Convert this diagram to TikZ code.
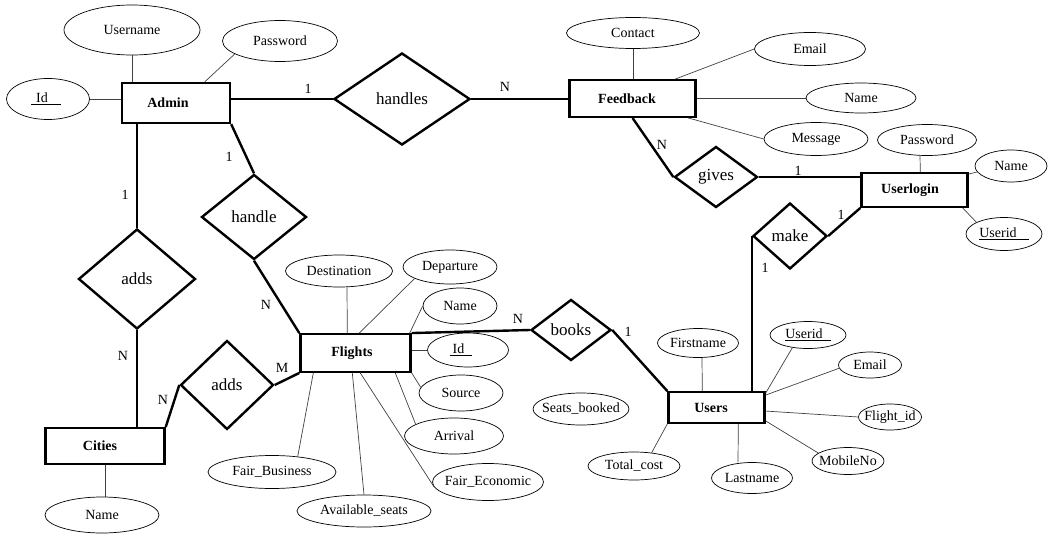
\documentclass[tikz,border=0pt]{standalone}
\usepackage{fontspec}
\setmainfont{Liberation Serif}
\usetikzlibrary{shapes.geometric,calc}
\begin{document}
\begin{tikzpicture}[x=1pt,y=-1pt,
  entity/.style={draw, rectangle, line width=2.4pt, inner sep=0pt, font=\fontsize{14}{16}\selectfont\bfseries},
  relation/.style={draw, diamond, line width=2.4pt, inner sep=0pt, font=\fontsize{17}{19}\selectfont},
  attr/.style={draw, ellipse, line width=0.7pt, inner xsep=-30pt, inner ysep=-4pt, font=\fontsize{14}{16}\selectfont},
  card/.style={inner sep=0pt, font=\fontsize{14}{16}\selectfont},
  link/.style={line width=2.4pt},
  attrline/.style={line width=0.7pt, black!75}]
\useasboundingbox (0,0) rectangle (1051,559);

% entities
\node[entity, minimum width=108pt, minimum height=40pt] (admin) at (176,103) {Admin\kern16pt};
\node[entity, minimum width=126pt, minimum height=36.5pt] (feedback) at (632.5,98.5) {Feedback\kern11pt};
\node[entity, minimum width=106pt, minimum height=33.5pt] (userlogin) at (914.5,190) {Userlogin\kern9pt};
\node[entity, minimum width=110pt, minimum height=37.5pt] (flights) at (355.5,353) {Flights\kern7pt};
\node[entity, minimum width=96pt, minimum height=30.5pt] (users) at (716.5,407.5) {Users\kern11pt};
\node[entity, minimum width=119pt, minimum height=35.5pt] (cities) at (105,446) {Cities\kern10pt};

% relationships
\node[relation, minimum width=136pt, minimum height=92pt] (handles) at (402,99) {handles};
\node[relation, minimum width=83pt, minimum height=61pt] (gives) at (716,177) {gives};
\node[relation, minimum width=74pt, minimum height=66pt] (make) at (790,236) {make};
\node[relation, minimum width=117pt, minimum height=100pt] (adds1) at (137,279) {adds};
\node[relation, minimum width=105pt, minimum height=85pt] (handle) at (254,217) {handle};
\node[relation, minimum width=93pt, minimum height=89pt] (adds2) at (227,385) {adds};
\node[relation, minimum width=80pt, minimum height=61pt] (books) at (571,330) {books};

% attributes
\node[attr, minimum width=136pt, minimum height=50pt] (username) at (132,30) {Username};
\node[attr, minimum width=115pt, minimum height=41pt] (password) at (280,41) {Password};
\node[attr, minimum width=83pt, minimum height=41pt] (aid) at (48,99) {\underline{\hspace{5pt}Id\hspace{13pt}}\kern4pt};
\node[attr, minimum width=133pt, minimum height=31pt] (contact) at (633,33) {Contact};
\node[attr, minimum width=111pt, minimum height=33pt] (femail) at (810,49) {Email};
\node[attr, minimum width=110pt, minimum height=30pt] (fname) at (861,98) {Name};
\node[attr, minimum width=104pt, minimum height=33pt] (message) at (816,139) {Message};
\node[attr, minimum width=99pt, minimum height=31pt] (upass) at (927,140) {Password};
\node[attr, minimum width=72pt, minimum height=32pt] (ulname) at (1011,166) {Name};
\node[attr, minimum width=76pt, minimum height=33pt] (ulid) at (1004,234) {\underline{Userid\hspace{12pt}}};
\node[attr, minimum width=107pt, minimum height=32pt] (dest) at (339,271) {Destination};
\node[attr, minimum width=94pt, minimum height=34pt] (depart) at (450,267) {Departure};
\node[attr, minimum width=74pt, minimum height=36pt] (fnm) at (460,306) {Name};
\node[attr, minimum width=81pt, minimum height=34pt] (fid) at (468,350) {\underline{\hspace{3pt}Id\hspace{8pt}}\kern14pt};
\node[attr, minimum width=84pt, minimum height=36pt] (source) at (461,393) {Source};
\node[attr, minimum width=99pt, minimum height=36pt] (arrival) at (454,436) {Arrival};
\node[attr, minimum width=111pt, minimum height=37pt] (feco) at (488,482) {Fair\_Economic};
\node[attr, minimum width=134pt, minimum height=32pt] (avail) at (364,511) {Available\_seats};
\node[attr, minimum width=128pt, minimum height=33pt] (fbus) at (272,472) {Fair\_Business};
\node[attr, minimum width=114pt, minimum height=36pt] (cname) at (102,515) {Name};
\node[attr, minimum width=81pt, minimum height=29pt] (firstname) at (698,343) {Firstname};
\node[attr, minimum width=76pt, minimum height=27pt] (uid) at (808,335) {\underline{Userid\hspace{8pt}}};
\node[attr, minimum width=63pt, minimum height=26pt] (uemail) at (870,365) {Email};
\node[attr, minimum width=63pt, minimum height=26pt] (flid) at (890,417) {Flight\_id};
\node[attr, minimum width=72pt, minimum height=27pt] (mobile) at (848,461) {MobileNo};
\node[attr, minimum width=81pt, minimum height=31pt] (lastname) at (752,478) {Lastname};
\node[attr, minimum width=92pt, minimum height=28pt] (totalcost) at (634,466) {Total\_cost};
\node[attr, minimum width=96pt, minimum height=32pt] (seats) at (581,409) {Seats\_booked};

% relationship links
\draw[link] (handles.west -| admin.east) -- (handles.west);
\draw[link] (handles.east) -- (handles.east -| feedback.west);
\draw[link] (feedback.south) -- (gives.west);
\draw[link] (gives.east) -- (gives.east -| userlogin.west);
\draw[link] (userlogin.south west) -- (make.east);
\draw[link] (make.west) -- (make.west |- users.north);
\draw[link] (adds1.north |- admin.south) -- (adds1.north);
\draw[link] (adds1.south) -- (adds1.south |- cities.north);
\draw[link] (admin.south east) -- (handle.north);
\draw[link] (handle.south) -- (flights.north west);
\draw[link] (cities.north east) -- (adds2.west);
\draw[link] (adds2.east) -- (flights.south west);
\draw[link] (flights.north east) -- (books.west);
\draw[link] (books.east) -- (users.north west);

% attribute links
\draw[attrline] (username.south) -- (username.south |- admin.north);
\draw[attrline] (password.196) -- ($(admin.north west)+(84,0)$);
\draw[attrline] (aid.east) -- (aid.east -| admin.west);
\draw[attrline] (contact.south) -- (contact.south |- feedback.north);
\draw[attrline] (femail.west) -- ($(feedback.north west)+(107,0)$);
\draw[attrline] (fname.west) -- (fname.west -| feedback.east);
\draw[attrline] (message.west) -- ($(feedback.south west)+(120,0)$);
\draw[attrline] ($(upass.south)+(-7,0)$) -- ($(userlogin.north west)+(60,0)$);
\draw[attrline] (ulname.190) -- ($(userlogin.north east)+(0,2)$);
\draw[attrline] (ulid.157) -- ($(userlogin.south east)+(-6,0)$);
\draw[attrline] ($(dest.south)+(8,0)$) -- ($(flights.north west)+(48,0)$);
\draw[attrline] (depart.198) -- ($(flights.north west)+(60,0)$);
\draw[attrline] (fnm.west) -- ($(flights.north east)+(-2,0)$);
\draw[attrline] (fid.west) -- (fid.west -| flights.east);
\draw[attrline] (source.172) -- (flights.south east);
\draw[attrline] (arrival.163) -- ($(flights.south west)+(96,0)$);
\draw[attrline] (feco.185) -- ($(flights.south west)+(61,0)$);
\draw[attrline] (avail.north) -- ($(flights.south west)+(53,0)$);
\draw[attrline] (fbus.31) -- ($(flights.south west)+(14,0)$);
\draw[attrline] (cities.south) -- (cities.south |- cname.north);
\draw[attrline] ($(firstname.south)+(4,0)$) -- ($(users.north west)+(35,0)$);
\draw[attrline] (uid.219) -- ($(users.north east)+(0,2)$);
\draw[attrline] (uemail.186) -- ($(users.north east)+(0,4)$);
\draw[attrline] (flid.west) -- ($(users.north east)+(0,20)$);
\draw[attrline] (mobile.165) -- ($(users.south east)+(0,-3)$);
\draw[attrline] ($(lastname.north)+(-14,0)$) -- ($(users.south west)+(71,0)$);
\draw[attrline] (totalcost.37) -- (users.south west);

% cardinalities
\node[card] (c1) at (308,89) {1};
\node[card] (c2) at (505,87) {N};
\node[card] (c3) at (229,157) {1};
\node[card] (c4) at (125,195) {1};
\node[card] (c5) at (123,356) {N};
\node[card] (c6) at (266,305) {N};
\node[card] (c7) at (282,368) {M};
\node[card] (c8) at (163,400) {N};
\node[card] (c9) at (518,319) {N};
\node[card] (c10) at (628,332) {1};
\node[card] (c11) at (662,145) {N};
\node[card] (c12) at (798,171) {1};
\node[card] (c13) at (841,215) {1};
\node[card] (c14) at (765,268) {1};
\end{tikzpicture}
\end{document}
